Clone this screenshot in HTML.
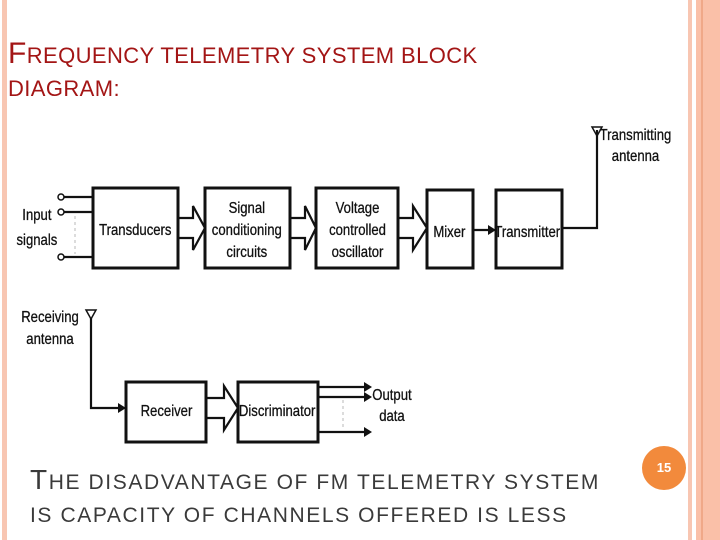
<!DOCTYPE html>
<html><head><meta charset="utf-8"><style>
html,body{margin:0;padding:0;width:720px;height:540px;overflow:hidden;background:#fff;position:relative;font-family:"Liberation Sans",sans-serif}
.t{position:absolute;left:8px;color:#a31515;font-size:22px;letter-spacing:0.4px;white-space:nowrap}
.t b{font-size:30px;font-weight:normal}
.s{position:absolute;left:30px;color:#3a3a3a;font-size:21px;letter-spacing:1.6px;white-space:nowrap}
.s b{font-size:28px;font-weight:normal}
</style></head><body>
<div style="position:absolute;left:2px;top:0;width:5px;height:540px;background:#f8c6b2"></div>
<div style="position:absolute;left:688px;top:0;width:4px;height:540px;background:#f8c6b2"></div>
<div style="position:absolute;left:696px;top:0;width:24px;height:540px;background:#fac0a8"></div>
<div style="position:absolute;left:701px;top:0;width:2px;height:540px;background:#f0a888"></div>
<div class="t" style="top:37px"><b>F</b>REQUENCY TELEMETRY SYSTEM BLOCK</div>
<div class="t" style="top:76px">DIAGRAM:</div>
<svg width="720" height="540" style="position:absolute;left:0;top:0" font-family="Liberation Sans,sans-serif" font-size="16" fill="#111" stroke-width="0.3">
<g fill="none" stroke="#111" stroke-width="3">
<rect x="93" y="188" width="85" height="80"/>
<rect x="205" y="188" width="85" height="80"/>
<rect x="316" y="188" width="82" height="80"/>
<rect x="427" y="190" width="46" height="78"/>
<rect x="496" y="190" width="66" height="78"/>
<rect x="126" y="382" width="80" height="60"/>
<rect x="238" y="382" width="80" height="60"/>
</g>
<g fill="none" stroke="#111" stroke-width="2.2">
<path d="M178,218 H193 V206 L205,228 L193,250 V238 H178"/>
<path d="M290,218 H305 V206 L316,228 L305,250 V238 H290"/>
<path d="M398,218 H413 V206 L427,228 L413,250 V238 H398"/>
<path d="M206,398 H224 V386 L238,408 L224,430 V418 H206"/>
<path d="M473,230 H490"/><path d="M562,228 H597 V130"/>
<path d="M91,318 V408 H120"/>
<path d="M64,197 H93 M64,212 H93 M64,257 H93"/>
<path d="M318,387 H365 M318,397 H365 M318,432 H365"/>
</g>
<g fill="#111"><path d="M496,230 L488,225 L488,235Z"/><path d="M126,408 L118,403 L118,413Z"/>
<path d="M372,387 L364,382 L364,392Z"/><path d="M372,397 L364,392 L364,402Z"/><path d="M372,432 L364,427 L364,437Z"/></g>
<g fill="#fff" stroke="#111" stroke-width="1.5"><circle cx="61" cy="197" r="3"/><circle cx="61" cy="212" r="3"/><circle cx="61" cy="257" r="3"/></g>
<path d="M75,216 V254 M343,400 V428" stroke="#111" stroke-dasharray="3,3"/>
<path d="M592,127 H602 L597,136Z M86,310 H96 L91,319Z" fill="none" stroke="#111" stroke-width="1.5"/>
<g text-anchor="middle" transform="scale(0.82,1)" stroke="#111">
<text x="165" y="235">Transducers</text>
<text x="301" y="213">Signal</text><text x="301" y="235">conditioning</text><text x="301" y="257">circuits</text>
<text x="436" y="213">Voltage</text><text x="436" y="235">controlled</text><text x="436" y="257">oscillator</text>
<text x="548" y="237">Mixer</text><text x="643" y="237">Transmitter</text>
<text x="203" y="416">Receiver</text><text x="338" y="416">Discriminator</text>
<text x="45" y="220">Input</text><text x="45" y="245">signals</text>
<text x="61" y="322">Receiving</text><text x="61" y="344">antenna</text>
<text x="775" y="140">Transmitting</text><text x="775" y="161">antenna</text>
<text x="478" y="400">Output</text><text x="478" y="421">data</text>
</g>
</svg>
<div class="s" style="top:464px"><b>T</b>HE DISADVANTAGE OF FM TELEMETRY SYSTEM</div>
<div class="s" style="top:504px">IS CAPACITY OF CHANNELS OFFERED IS LESS</div>
<div style="position:absolute;left:642px;top:446px;width:44px;height:44px;border-radius:50%;background:#f28a3c;color:#fff;font-weight:bold;font-size:13px;line-height:44px;text-align:center">15</div>
</body></html>
